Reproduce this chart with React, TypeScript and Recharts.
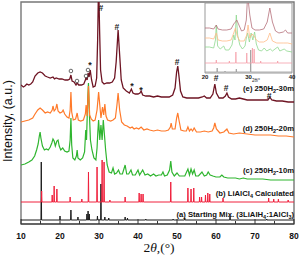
import React from 'react';
import { ComposedChart, LineChart, Line, Scatter, XAxis, YAxis, ReferenceArea } from 'recharts';

type Pt = [number, number];

// 2theta ticks
const xTicks = [10, 15, 20, 25, 30, 35, 40, 45, 50, 55, 60, 65, 70, 75, 80];
const insetTicks = [20, 30, 40];

// (e) 250H2-30m, stacked a.u.
const scan30m: Pt[] = [
  [10, 139], [10.6, 137], [11, 138], [11.5, 140], [12, 139], [12.5, 140], [13, 142], [13.6, 148], [14.3, 151], [14.9, 152],
  [15.5, 151], [16.2, 148], [16.8, 147], [17.5, 146], [18.2, 147], [18.6, 145], [19, 146], [19.8, 145], [20.5, 145],
  [21.3, 144], [22, 144], [22.5, 145], [22.8, 149], [23.1, 143], [23.6, 142], [24.1, 139], [24.4, 141], [24.8, 139],
  [25.5, 139], [26.1, 140], [26.5, 144], [26.7, 147], [26.95, 144], [27.2, 151], [27.45, 147], [27.75, 154], [28.1, 144],
  [28.5, 137], [29, 138], [29.4, 146], [29.65, 184], [29.9, 244], [30.15, 194], [30.4, 154], [30.8, 142], [31.3, 140],
  [32, 141], [32.7, 141], [33.4, 142], [34, 146], [34.4, 162], [34.9, 194], [35.3, 169], [35.7, 144], [36.2, 136],
  [37, 133], [37.8, 131], [38.3, 135], [38.7, 131], [39.3, 130], [40, 130], [40.5, 131], [40.8, 133], [41.2, 129],
  [42, 128], [43, 128], [44, 127], [45, 128], [46, 127], [47, 127], [48, 127], [48.9, 129], [49.5, 136], [49.9, 152],
  [50.2, 158], [50.5, 148], [50.9, 133], [51.5, 127], [52.5, 126], [53.5, 126], [54.5, 126], [55.5, 126], [56.5, 127],
  [57, 128], [57.6, 126], [58.5, 126], [59.2, 130], [59.7, 140], [60.1, 131], [60.8, 126], [61.8, 126], [62.4, 128],
  [62.8, 131], [63.2, 127], [64, 125], [65, 125], [66, 126], [67, 125], [68, 124], [70, 124], [72, 124], [73.3, 124],
  [73.8, 127], [74.3, 124], [75.5, 123], [77, 123], [78.5, 122], [80, 122],
];

// (d) 250H2-20m
const scan20m: Pt[] = [
  [10, 102], [11, 103], [12, 104], [13, 106], [13.6, 110], [14.3, 114], [14.9, 116], [15.5, 114], [16.2, 111], [16.8, 112],
  [17.5, 111], [18, 114], [18.2, 118], [18.5, 113], [18.9, 115], [19.2, 120], [19.5, 113], [20, 111], [20.5, 112],
  [20.8, 114], [21.2, 110], [21.8, 107], [22.3, 106], [22.6, 114], [22.8, 132], [23, 112], [23.4, 104], [24, 105],
  [24.4, 111], [24.7, 104], [25.3, 103], [26, 104], [26.5, 110], [26.7, 119], [26.95, 108], [27.3, 138], [27.6, 109],
  [28, 105], [28.5, 103], [29, 104], [29.5, 114], [29.9, 132], [30.2, 119], [30.5, 106], [30.9, 117], [31.2, 109],
  [31.5, 120], [31.8, 108], [32.2, 104], [33, 103], [33.6, 104], [34.2, 106], [34.6, 119], [34.9, 131], [35.3, 114],
  [35.8, 102], [36.5, 99], [37.2, 98], [38, 96], [38.5, 97], [39, 95], [39.6, 96], [40.2, 95], [40.8, 97], [41.5, 94],
  [42.3, 95], [43, 94], [44, 93], [45, 94], [46, 93], [47, 93], [47.8, 94], [48.3, 97], [48.5, 101], [48.8, 95],
  [49.5, 95], [49.9, 106], [50.2, 111], [50.5, 104], [51, 94], [51.8, 93], [52.4, 93], [52.8, 97], [53.2, 93],
  [53.6, 95], [54, 93], [54.4, 96], [55, 92], [56, 92], [57, 93], [58, 92], [59, 93], [59.4, 96], [59.7, 101],
  [60.1, 95], [61, 91], [62, 92], [62.8, 95], [63.3, 91], [64.5, 90], [66, 91], [68, 90], [70, 89], [72, 89], [74, 89],
  [76, 88], [78, 88], [80, 87],
];

// (c) 250H2-10m
const scan10m: Pt[] = [
  [10, 59], [11, 60], [12, 62], [12.8, 64], [13.5, 68], [14, 74], [14.4, 80], [14.7, 88], [14.9, 92], [15.1, 86],
  [15.5, 78], [16, 74], [16.5, 75], [17, 74], [17.5, 77], [17.9, 81], [18.2, 85], [18.5, 83], [18.8, 78], [19.2, 83],
  [19.5, 84], [19.8, 78], [20.2, 74], [20.7, 76], [21.2, 73], [21.8, 72], [22.3, 73], [22.6, 84], [22.8, 106], [23, 79],
  [23.3, 66], [23.8, 64], [24.2, 68], [24.4, 74], [24.6, 66], [25.2, 64], [25.8, 66], [26.3, 72], [26.6, 94], [26.8, 84],
  [27.1, 124], [27.3, 141], [27.5, 114], [27.8, 84], [28.2, 74], [28.7, 66], [29.2, 64], [29.5, 76], [29.7, 92],
  [29.9, 104], [30.2, 84], [30.5, 99], [30.8, 84], [31.1, 104], [31.4, 89], [31.7, 74], [32.1, 59], [32.6, 52],
  [33.2, 51], [33.6, 56], [34, 50], [34.5, 51], [35, 54], [35.4, 50], [36, 50], [36.7, 59], [37.1, 50], [37.6, 50],
  [38.2, 54], [38.6, 49], [39.3, 49], [40, 54], [40.4, 49], [41.2, 54], [41.8, 49], [42.5, 50], [43.2, 48], [44, 50],
  [44.6, 48], [45.3, 49], [46, 49], [46.4, 52], [46.8, 48], [47.5, 49], [48.1, 54], [48.4, 63], [48.7, 52], [49.3, 48],
  [50, 51], [50.6, 48], [51.3, 48], [52, 48], [52.8, 55], [53.2, 49], [53.6, 55], [54, 50], [54.4, 54], [54.8, 48],
  [55.5, 48], [56.4, 52], [57, 48], [57.6, 49], [58, 52], [58.5, 49], [59.2, 48], [60, 47], [61, 47], [61.5, 49],
  [62, 47], [63, 46], [64, 46], [65, 46], [66, 45], [67, 46], [68, 45], [70, 45], [72, 45], [74, 44], [76, 44], [78, 44],
  [80, 44],
];

// (b) LiAlCl4 calculated sticks
const liAlCl4Base = 22;
const liAlCl4Peaks: Pt[] = [
  [15.3, 33], [18, 29], [18.5, 38], [19.2, 35], [22.6, 27], [25.6, 25], [27.3, 52], [29.5, 57], [30.8, 64], [31.3, 62],
  [32.8, 24], [36.7, 27], [40.3, 31], [40.8, 30], [41.3, 30], [48.4, 42], [52.8, 36], [53.6, 35], [54.3, 36], [55.8, 27],
  [56.3, 27], [57.3, 29], [57.9, 31], [58.4, 30], [61.8, 26], [73.5, 26], [74.8, 25], [76, 25], [78.5, 24],
];

// (a) starting mix
const startBase = 4;
const startPeaks: Pt[] = [
  [15.2, 62], [20, 8], [22.8, 14], [24.6, 7], [26.9, 10], [27.2, 13], [27.5, 10], [29.6, 8], [30.5, 40], [31.5, 7],
  [32.5, 6], [36.7, 7], [37.3, 6], [42, 5], [49, 5], [52, 6], [63.6, 8], [73, 5],
];

// peak markers
const hashMarks: Pt[] = [[30.5, 216], [34.6, 197], [50, 162], [60, 146], [62.6, 136], [73.6, 128]];
const starMarks: Pt[] = [[27.7, 159], [38.46, 138], [40.77, 134]];
const circleMarks: Pt[] = [[22.8, 153], [24.36, 143], [26.67, 148], [27.18, 154]];

const seriesNames: string[][] = [
  ['(e) 250H', '2', '-30m'],
  ['(d) 250H', '2', '-20m'],
  ['(c) 250H', '2', '-10m'],
  ['(b) LiAlCl', '4', ' Calculated'],
  ['(a) Starting Mix. (3LiAlH', '4', ':1AlCl', '3', ')'],
];
const nameLevels = [133.5, 93, 51, 28, 7.5];

// inset 20-40 deg
const inset30m: Pt[] = [
  [20, 45], [21, 45], [22, 44], [22.6, 48], [23, 44], [24, 43], [25, 43], [26, 44], [26.6, 49], [27, 51], [27.3, 53],
  [27.8, 48], [28.4, 42], [29, 43], [29.5, 53], [29.8, 78], [30.3, 58], [30.8, 45], [31.5, 43], [32.5, 43], [33.5, 44],
  [34.3, 51], [34.9, 65], [35.5, 51], [36.2, 42], [37, 40], [38, 41], [38.5, 43], [39, 40], [40, 40],
];
const inset20m: Pt[] = [
  [20, 35], [21, 35], [22, 34], [22.6, 40], [23, 33], [24, 32], [25, 32], [26, 33], [26.6, 40], [27, 45], [27.4, 37],
  [28, 32], [29, 32], [29.6, 38], [29.9, 48], [30.3, 35], [30.8, 39], [31.3, 37], [31.8, 33], [32.5, 31], [33.5, 31],
  [34.3, 33], [34.9, 40], [35.5, 32], [36.5, 30], [38, 30], [39, 30], [40, 29],
];
const inset10m: Pt[] = [
  [20, 26], [21, 26], [22, 25], [22.4, 33], [22.6, 48], [22.9, 27], [23.5, 24], [24.3, 27], [24.7, 23], [25.5, 23],
  [26.2, 28], [26.6, 38], [26.9, 33], [27.2, 58], [27.5, 38], [28, 28], [28.6, 24], [29.2, 27], [29.5, 35], [29.8, 40],
  [30.2, 31], [30.6, 40], [31, 33], [31.4, 41], [31.8, 29], [32.3, 23], [33, 22], [33.6, 25], [34.2, 22], [35, 24],
  [35.5, 22], [36.7, 26], [37.2, 22], [38.2, 24], [38.8, 22], [40, 21],
];
const insetCalcPeaks: Pt[] = [[22.6, 13], [25.6, 12], [27.1, 21], [29.6, 20], [30.9, 25], [31.3, 24], [32.8, 12], [36.7, 12]];
const insetStartPeaks: Pt[] = [[22.8, 5], [24.6, 2], [27.2, 4], [30.5, 23]];

const toPoints = (pts: Pt[]) => pts.map(([x, y]) => ({ x, y }));
const toSticks = (peaks: Pt[], base: number, from: number, to: number, hw: number) => {
  const out = [{ x: from, y: base }];
  [...peaks].sort((a, b) => a[0] - b[0]).forEach(([x, h]) => {
    out.push({ x: x - hw, y: base }, { x, y: h }, { x: x + hw, y: base });
  });
  out.push({ x: to, y: base });
  return out;
};

const FONT = '"Liberation Sans", Arial, sans-serif';

const MainTick = (props: any) => {
  const { x, y, payload } = props;
  const major = payload.value % 10 === 0;
  return (
    <g>
      <line x1={x} x2={x} y1={y} y2={y - (major ? 5 : 3)} stroke="#333" strokeWidth={1} />
      {major && (
        <text x={x} y={y + 14.5} textAnchor="middle" fontSize={8.5} fontWeight="bold" fill="#111" fontFamily={FONT}>
          {payload.value}
        </text>
      )}
    </g>
  );
};

const InsetTick = (props: any) => {
  const { x, y, payload } = props;
  return (
    <text x={x} y={y + 6} textAnchor="middle" fontSize={6} fontWeight="bold" fill="#222" fontFamily={FONT}>
      {payload.value}
    </text>
  );
};

const markText = (glyph: string, size: number) => (props: any) => (
  <text x={props.cx} y={props.cy} textAnchor="middle" dominantBaseline="central" fontSize={size}
    fontWeight="bold" fill="#222" fontFamily={FONT}>{glyph}</text>
);

const CircleMark = (props: any) => (
  <circle cx={props.cx} cy={props.cy} r={1.8} fill="#fff" stroke="#444" strokeWidth={0.8} />
);

const NameLabel = (props: any) => {
  const parts: string[] = props.payload.parts;
  return (
    <text x={props.cx} y={props.cy} textAnchor="end" fontSize={7.7} fontWeight="bold" fill="#111" fontFamily={FONT}>
      {parts.map((p, i) =>
        i % 2 === 1 ? (
          <tspan key={i} dy={2} fontSize={5.5}>{p}</tspan>
        ) : (
          <tspan key={i} dy={i === 0 ? 0 : -2}>{p}</tspan>
        )
      )}
    </text>
  );
};

const nameData = seriesNames.map((parts, i) => ({ x: 80, y: nameLevels[i], parts }));

export default function App() {
  return (
    <div style={{ position: 'absolute', left: 0, top: 0, width: 300, height: 256, background: '#fff' }}>
      <ComposedChart width={300} height={256} margin={{ top: 2, right: 6, left: 0, bottom: 0 }} style={{ fontFamily: FONT }}>
        <XAxis type="number" dataKey="x" domain={[10, 80]} ticks={xTicks} allowDataOverflow height={32}
          tickSize={0} tickMargin={0} tickLine={false} axisLine={{ stroke: '#333', strokeWidth: 1.2 }}
          tick={MainTick} interval={0}
          label={(p: any) => {
            const vb = p.viewBox;
            return (
              <text x={vb.x + vb.width / 2 + 1.5} y={vb.y + 28} textAnchor="middle" fontSize={13.5}
                fontFamily='"Liberation Serif", "Times New Roman", serif' fill="#111">
                2<tspan fontStyle="italic">θ</tspan>,(°)
              </text>
            );
          }}
        />
        <YAxis type="number" dataKey="y" domain={[0, 222]} allowDataOverflow width={21} tick={false}
          tickLine={false} axisLine={false}
          label={(p: any) => {
            const vb = p.viewBox;
            const cx = vb.x + 12;
            const cy = vb.y + vb.height / 2 + 8;
            return (
              <text transform={`translate(${cx},${cy}) rotate(-90)`} textAnchor="middle" fontSize={12.5}
                fontFamily={FONT} fill="#111">Intensity, (a.u.)</text>
            );
          }}
        />
        <ReferenceArea x1={10} x2={80} y1={0} y2={222} fill="none" stroke="#777" strokeWidth={1.4} fillOpacity={0} />
        <Line data={toSticks(startPeaks, startBase, 10, 80, 0.08)} dataKey="y" type="linear" stroke="#1a1a1a"
          strokeWidth={1} dot={false} isAnimationActive={false} />
        <Line data={toSticks(liAlCl4Peaks, liAlCl4Base, 10, 80, 0.08)} dataKey="y" type="linear" stroke="#f0203c"
          strokeWidth={1} dot={false} isAnimationActive={false} />
        <Line data={toPoints(scan10m)} dataKey="y" type="linear" stroke="#2fb52f" strokeWidth={1.2}
          dot={false} isAnimationActive={false} />
        <Line data={toPoints(scan20m)} dataKey="y" type="linear" stroke="#ff7a2a" strokeWidth={1.2}
          dot={false} isAnimationActive={false} />
        <Line data={toPoints(scan30m)} dataKey="y" type="linear" stroke="#6e1423" strokeWidth={1.3}
          dot={false} isAnimationActive={false} />
        <Scatter data={toPoints(hashMarks)} dataKey="y" shape={markText('#', 8.5)} isAnimationActive={false} />
        <Scatter data={toPoints(starMarks)} dataKey="y" shape={markText('*', 9)} isAnimationActive={false} />
        <Scatter data={toPoints(circleMarks)} dataKey="y" shape={CircleMark} isAnimationActive={false} />
        <Scatter data={nameData} dataKey="y" shape={NameLabel} isAnimationActive={false} />
      </ComposedChart>

      <div style={{ position: 'absolute', left: 200, top: 0 }}>
        <LineChart width={97} height={86} margin={{ top: 3, right: 5, left: 5, bottom: 0 }} style={{ fontFamily: FONT }}>
          <XAxis type="number" dataKey="x" domain={[20, 40]} ticks={insetTicks} allowDataOverflow height={13}
            tickSize={0} tickMargin={0} tickLine={false} axisLine={false} tick={InsetTick} interval={0}
            label={(p: any) => {
              const vb = p.viewBox;
              return (
                <text x={vb.x + 51} y={vb.y + 8.5} textAnchor="middle" fontSize={4.5} fill="#222" fontFamily={FONT}>
                  2θ/°
                </text>
              );
            }}
          />
          <YAxis hide type="number" dataKey="y" domain={[0, 70]} allowDataOverflow />
          <ReferenceArea x1={20} x2={40} y1={0} y2={70} fill="none" fillOpacity={0} stroke="#999" strokeWidth={1} />
          <Line data={toSticks(insetStartPeaks, 1, 20, 40, 0.05)} dataKey="y" type="linear" stroke="#999"
            strokeWidth={0.8} dot={false} isAnimationActive={false} />
          <Line data={toSticks(insetCalcPeaks, 10, 20, 40, 0.05)} dataKey="y" type="linear" stroke="#f5a0aa"
            strokeWidth={0.8} dot={false} isAnimationActive={false} />
          <Line data={toPoints(inset10m)} dataKey="y" type="linear" stroke="#8fd88f" strokeWidth={0.8}
            dot={false} isAnimationActive={false} />
          <Line data={toPoints(inset20m)} dataKey="y" type="linear" stroke="#ffbb88" strokeWidth={0.8}
            dot={false} isAnimationActive={false} />
          <Line data={toPoints(inset30m)} dataKey="y" type="linear" stroke="#b5707a" strokeWidth={0.8}
            dot={false} isAnimationActive={false} />
        </LineChart>
      </div>
    </div>
  );
}
